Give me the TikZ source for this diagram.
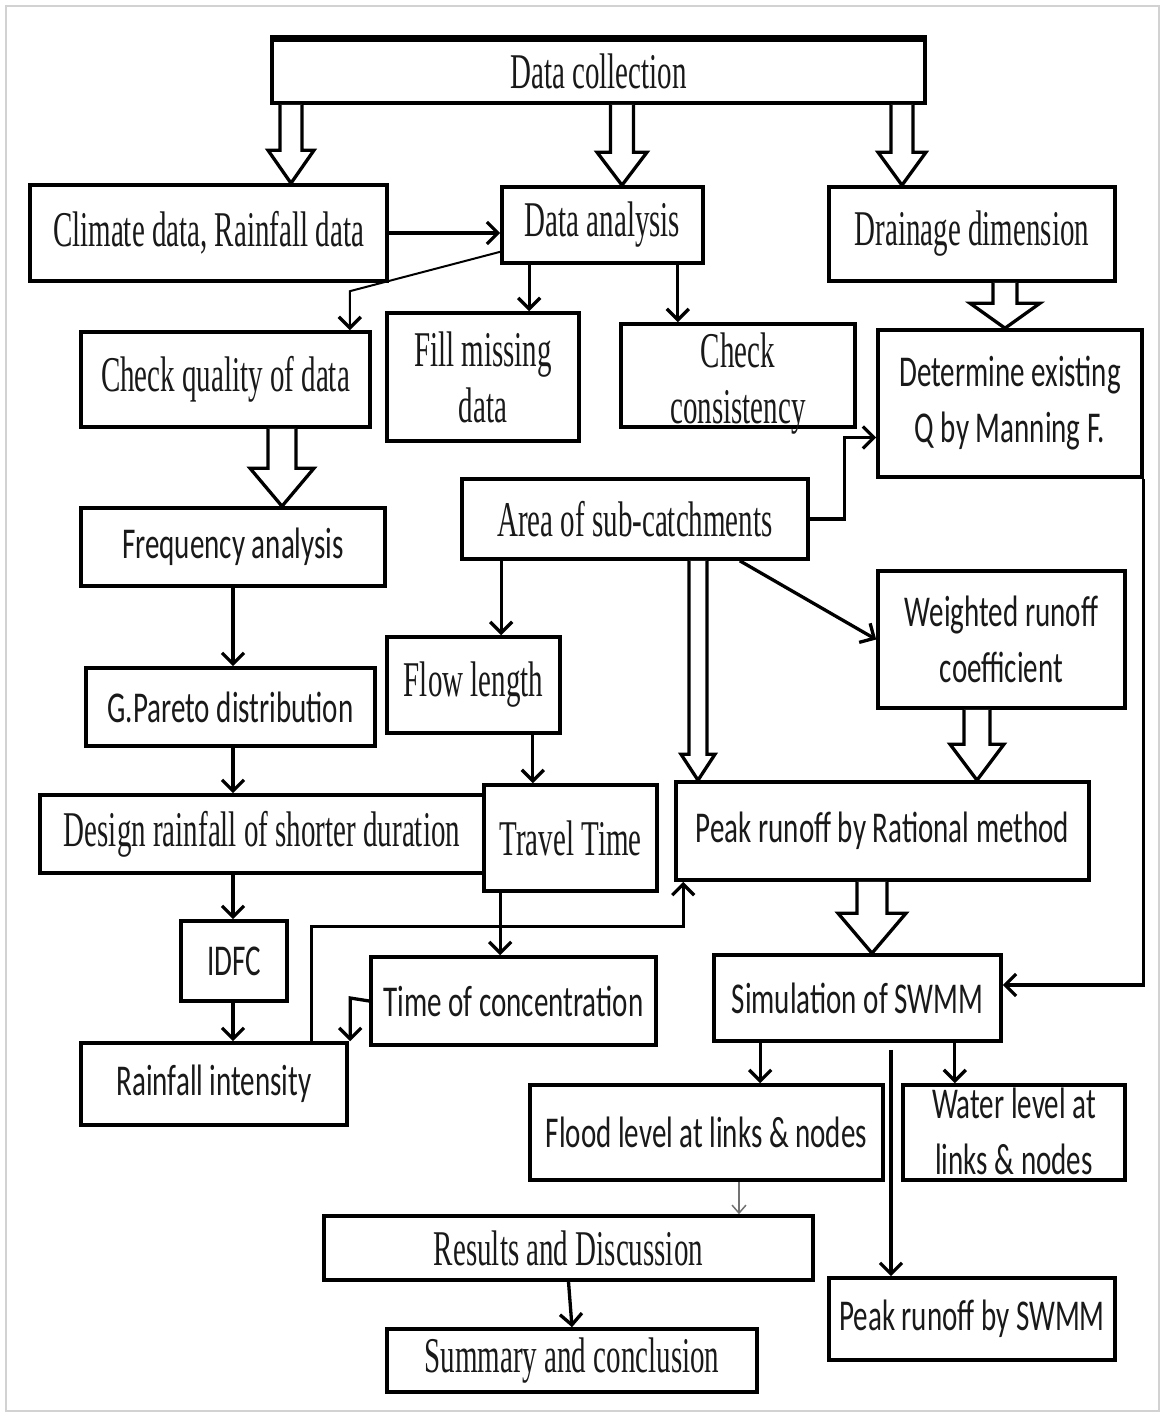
\documentclass[tikz,border=0pt]{standalone}
\usepackage{fontspec}
\usetikzlibrary{arrows.meta,calc}
\newfontfamily\tnrfont[FakeStretch=0.58]{Liberation Serif}
\newfontfamily\calfont[FakeStretch=0.66]{Carlito}
\tikzset{
  box/.style={draw=black, line width=3.6pt, fill=white, inner sep=0pt, align=center},
  tr/.style={font={\tnrfont\fontsize{50}{56}\selectfont}, text=black!90},
  ca/.style={font={\calfont\fontsize{44}{56}\selectfont}, text=black!90},
  txt/.style={align=center, inner sep=0pt},
  arr/.style={line width=3.3pt, -{Straight Barb[length=11pt,width=22pt,line width=3.3pt]}},
  thinarr/.style={line width=1.5pt, black!55, -{Straight Barb[length=8pt,width=14pt,line width=1.5pt]}},
  hol/.style={line width=3.3pt, fill=white, line join=miter},
}
\newcommand\hollowv[6]{%
  \draw[hol] let \p1=(#1.south), \p2=(#2.north) in
  ({#3pt-#4pt},\y1) -- ({#3pt-#4pt},{\y2+#6pt}) -- ({#3pt-#5pt},{\y2+#6pt}) -- (#3pt,\y2)
  -- ({#3pt+#5pt},{\y2+#6pt}) -- ({#3pt+#4pt},{\y2+#6pt}) -- ({#3pt+#4pt},\y1);}
\begin{document}
\begin{tikzpicture}[x=1pt,y=-1pt]
\useasboundingbox (0,0) rectangle (1165,1417);
\draw[gray!35, line width=2pt] (6,6) rectangle (1159,1411);

% boxes
\node[box,tr,minimum width=653pt,minimum height=63pt] (dc) at (598.5,71.5) {Data collection};
\node[box,tr,minimum width=357pt,minimum height=96pt] (cl) at (208.5,233) {Climate data, Rainfall data};
\node[box,tr,minimum width=201pt,minimum height=76pt] (da) at (602.5,225) {Data analysis};
\node[box,tr,minimum width=286pt,minimum height=94pt] (dd) at (972,234) {Drainage dimension};
\node[box,tr,minimum width=289pt,minimum height=95pt] (cq) at (225.5,379.5) {Check quality of data};
\node[box,tr,minimum width=192pt,minimum height=128pt] (fm) at (483,377) {Fill missing\\data};
\node[box,minimum width=234pt,minimum height=103pt] (cc) at (738,375.5) {};
\node[txt,tr] (cct) at (738,384) {Check\\consistency};
\node[box,ca,minimum width=264pt,minimum height=147pt] (de) at (1010,403.5) {Determine existing\\Q by Manning F.};
\node[box,tr,minimum width=346pt,minimum height=80pt] (as) at (635,519) {Area of sub-catchments};
\node[box,ca,minimum width=304pt,minimum height=78pt] (fa) at (233,547) {Frequency analysis};
\node[box,tr,minimum width=173pt,minimum height=96pt] (fl) at (473.5,685) {Flow length};
\node[box,ca,minimum width=247pt,minimum height=137pt] (wr) at (1001.5,639.5) {Weighted runoff\\coefficient};
\node[box,ca,minimum width=289pt,minimum height=78pt] (gp) at (230.5,707) {G.Pareto distribution};
\node[box,tr,minimum width=444pt,minimum height=78pt] (dr) at (262,834) {Design rainfall of shorter duration};
\node[box,tr,minimum width=173pt,minimum height=106pt] (tt) at (570.5,838) {Travel Time};
\node[box,ca,minimum width=413pt,minimum height=98pt] (pr) at (882.5,831) {Peak runoff by Rational method};
\node[box,ca,minimum width=106pt,minimum height=80pt] (idfc) at (234,961) {IDFC};
\node[box,ca,minimum width=285pt,minimum height=88pt] (tc) at (513.5,1001) {Time of concentration};
\node[box,ca,minimum width=287pt,minimum height=86pt] (sw) at (857.5,998) {Simulation of SWMM};
\node[box,ca,minimum width=266pt,minimum height=82pt] (ri) at (214,1084) {Rainfall intensity};
\node[box,ca,minimum width=353pt,minimum height=95pt] (fl2) at (706.5,1132.5) {Flood level at links \& nodes};
\node[box,minimum width=222pt,minimum height=95pt] (wl) at (1014,1132.5) {};
\node[txt,ca] (wlt) at (1014,1131) {Water level at\\links \& nodes};
\node[box,tr,minimum width=489pt,minimum height=64pt] (rd) at (568.5,1248) {Results and Discussion};
\node[box,ca,minimum width=286pt,minimum height=82pt] (ps) at (972,1319) {Peak runoff by SWMM};
\node[box,tr,minimum width=370pt,minimum height=63pt] (sc) at (572,1360.5) {Summary and conclusion};
\draw[line width=6pt] (dc.north west) -- (dc.north east);

% hollow arrows
\hollowv{dc}{cl}{291}{11}{23}{33}
\hollowv{dc}{da}{622}{11.5}{25}{33}
\hollowv{dc}{dd}{902}{11}{24}{33}
\hollowv{dd}{de}{1005}{12}{35}{25}
\hollowv{cq}{fa}{282}{14}{32}{38}
\hollowv{as}{pr}{698}{9}{17}{26}
\hollowv{wr}{pr}{977}{13}{27}{36}
\hollowv{pr}{sw}{872}{15}{34}{40}

% line arrows
\draw[arr] (cl.east) -- (cl.east -| da.west);
\draw[line width=2pt, -{Straight Barb[length=11pt,width=22pt,line width=3.3pt]}]
  ($(da.south west)+(0,-13)$) -- ($(cq.north east)+(-22,-39)$) -- ($(cq.north east)+(-22,0)$);
\coordinate (p1) at ($(da.south west)+(29,0)$);
\draw[arr] (p1) -- (p1 |- fm.north);
\coordinate (p2) at ($(da.south east)+(-27,0)$);
\draw[arr] (p2) -- (p2 |- cc.north);
\coordinate (p3) at ($(de.west)+(0,34)$);
\draw[arr] (as.east) -- ($(as.east)+(35,0)$) |- (p3);
\coordinate (p4) at ($(as.south west)+(41,0)$);
\draw[arr] (p4) -- (p4 |- fl.north);
\coordinate (p5) at ($(as.south east)+(-70,0)$);
\draw[arr] (p5) -- (wr.west);
\coordinate (colL) at (233,0);
\draw[arr] (colL |- fa.south) -- (colL |- gp.north);
\draw[arr] (colL |- gp.south) -- (colL |- dr.north);
\draw[arr] (colL |- dr.south) -- (colL |- idfc.north);
\draw[arr] (colL |- idfc.south) -- (colL |- ri.north);
\coordinate (p6) at ($(fl.south east)+(-29,0)$);
\draw[arr] (p6) -- (p6 |- tt.north);
\coordinate (p7) at ($(tt.south west)+(18,0)$);
\draw[arr] (p7) -- (p7 |- tc.north);
\coordinate (p8) at ($(ri.north east)+(-37,0)$);
\coordinate (p9) at ($(pr.south west)+(9,45)$);
\draw[arr] (p8) -- (p8 |- p9) -- (p9) -- (p9 |- pr.south);
\draw[arr] (tc.west) -- ++(-19,-3) coordinate (p10) -- (p10 |- ri.north);
\coordinate (p11) at ($(sw.east)+(0,-13)$);
\draw[arr] (de.south east) -- (de.south east |- p11) -- (p11);
\coordinate (p12) at ($(sw.south west)+(48,0)$);
\draw[arr] (p12) -- (p12 |- fl2.north);
\coordinate (p13) at ($(sw.south east)+(-48,0)$);
\draw[arr] (p13) -- (p13 |- wl.north);
\coordinate (p14) at ($(sw.south)+(33.5,7)$);
\draw[arr] (p14) -- (p14 |- ps.north);
\coordinate (p15) at ($(fl2.south)+(32.5,0)$);
\draw[thinarr] (p15) -- (p15 |- rd.north);
\draw[arr] (rd.south) -- (sc.north);
\end{tikzpicture}
\end{document}
